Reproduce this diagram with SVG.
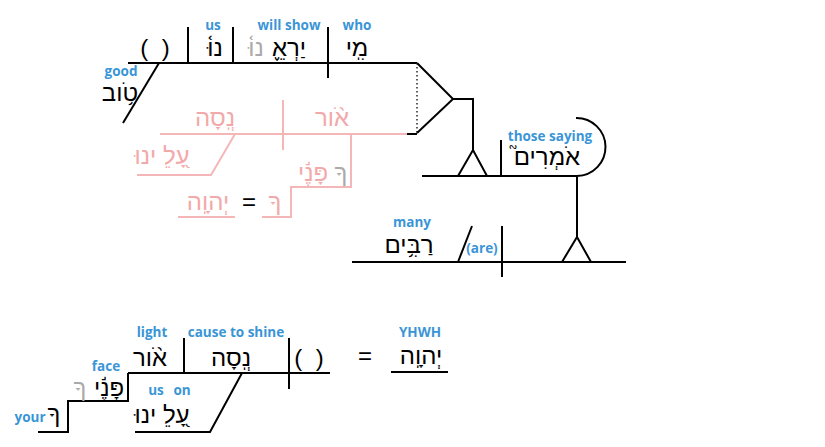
<svg xmlns="http://www.w3.org/2000/svg" width="825" height="447" viewBox="0 0 825 447">
<style>
.ln{stroke:#000;stroke-width:2;fill:none}
.pk{stroke:#f4b6b6;stroke-width:2;fill:none}
.he{font-family:"Liberation Sans","DejaVu Sans",sans-serif;font-size:24px;fill:#000;text-anchor:middle}
.hp{fill:#f2a9a9}
.hg{fill:#aaaaaa}
.lb{font-family:"Open Sans","Liberation Sans",sans-serif;font-size:13.5px;font-weight:bold;fill:#3a95d6;text-anchor:middle}
.pr{font-family:"Liberation Sans",sans-serif;font-size:24px;fill:#000;text-anchor:middle}
</style>
<rect width="825" height="447" fill="#fff"/>
<g id="connectors">
  <path class="ln" d="M128,63 H417 M188,27 V63 M233,27 V63 M328,27 V78"/>
  <path class="ln" d="M159,63 L123,123"/>
  <path d="M417,63 V133" stroke="#333" stroke-width="1.6" stroke-dasharray="1.5,2.5" fill="none"/>
  <path class="ln" d="M417,63 L453,99 L417,133 M453,99 H473 V150"/>
  <path class="ln" d="M473,150 L458,176 L487,176 Z"/>
  <path class="ln" d="M422,176 H577 M501,140 V176"/>
  <path class="ln" d="M576,118 A29,29 0 0 1 577,176 V237"/>
  <path class="ln" d="M577,237 L562,262 L591,262 Z"/>
  <path class="ln" d="M352,262 H626 M502,226 V277 M458,262 L472,226"/>
  <path class="pk" d="M160,134 H407 M283,100 V150 M235,134 L211,175 H137 M351,134 V187 H291 V217 H262 M178,217 H235"/>
  <path class="ln" d="M407,134 H417"/>
  <path class="ln" d="M128,373 H330 M184,338 V373 M289,338 V389"/>
  <path class="ln" d="M128,373 V401 H68 V432 H38"/>
  <path class="ln" d="M242,373 L210,432 H135"/>
  <path class="ln" d="M391,372 H448"/>
</g>
<g id="n-top">
  <text class="pr" x="155" y="56" xml:space="preserve">(  )</text>
  <text class="lb" x="213" y="30">us</text>
  <text class="he" x="215" y="56">נוּ֫</text>
  <text class="lb" x="289" y="30">will show</text>
  <text class="he hg" x="256" y="56">נוּ֫</text>
  <text class="he" x="289" y="56">יַרְאֵ֢</text>
  <text class="lb" x="357" y="30">who</text>
  <text class="he" x="357" y="56">מִֽי</text>
</g>
<g id="n-good">
  <text class="lb" x="121" y="76">good</text>
  <text class="he" x="120" y="101">טֹ֥וב</text>
</g>
<g id="n-pink">
  <text class="he hp" x="215" y="126">נְֽסָה</text>
  <text class="he hp" x="332" y="126">אֹ֨ור</text>
  <text class="he hp" x="162" y="164">עָ֭לֵ ינוּ</text>
  <text class="he hp" x="313" y="181">פָּנֶ֬י</text>
  <text class="he hg" x="341" y="181">ךָ</text>
  <text class="he hp" x="275" y="210">ךָ</text>
  <text class="pr hp" x="249" y="210">=</text>
  <text class="he hp" x="208" y="210">יְהוָֽה</text>
</g>
<g id="n-saying">
  <text class="lb" x="550" y="141">those saying</text>
  <text class="he" x="547" y="165">אֹמְרִים֮</text>
</g>
<g id="n-many">
  <text class="lb" x="412" y="227">many</text>
  <text class="he" x="409" y="253">רַבִּ֥ים</text>
  <text class="lb" x="482" y="253">(are)</text>
</g>
<g id="n-bottom">
  <text class="lb" x="152" y="337">light</text>
  <text class="he" x="150" y="366">אֹ֨ור</text>
  <text class="lb" x="236" y="337">cause to shine</text>
  <text class="he" x="231" y="366">נְֽסָה</text>
  <text class="pr" x="309" y="366" xml:space="preserve">(  )</text>
  <text class="pr" x="365" y="364">=</text>
  <text class="lb" x="420" y="337">YHWH</text>
  <text class="he" x="421" y="364">יְהוָֽה</text>
</g>
<g id="n-face">
  <text class="lb" x="106" y="371">face</text>
  <text class="he" x="109" y="396">פָּנֶ֬י</text>
  <text class="he hg" x="80" y="396">ךָ</text>
  <text class="lb" x="30" y="422">your</text>
  <text class="he" x="54" y="422">ךָ</text>
</g>
<g id="n-on">
  <text class="lb" x="156" y="395">us</text>
  <text class="lb" x="182" y="395">on</text>
  <text class="he" x="162" y="423">עָ֭לֵ ינוּ</text>
</g>
</svg>
